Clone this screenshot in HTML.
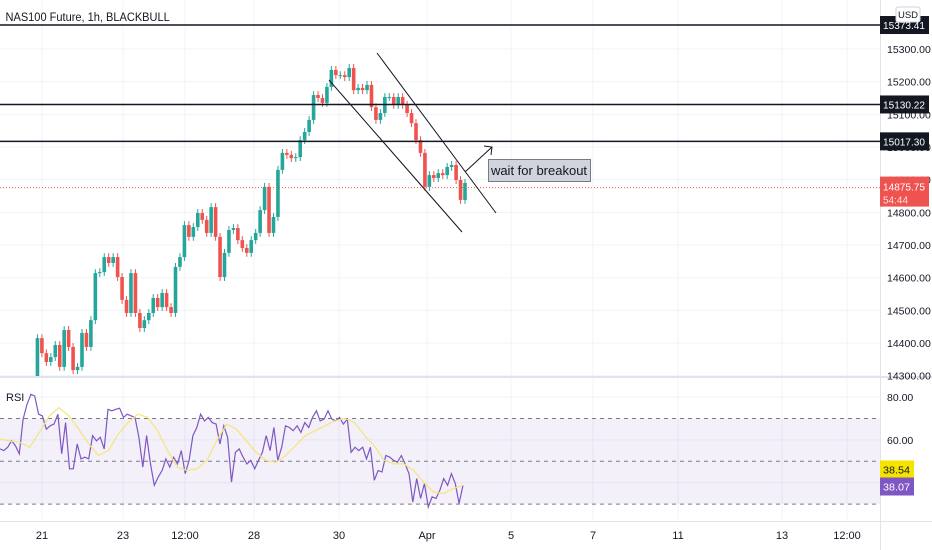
<!DOCTYPE html>
<html><head><meta charset="utf-8"><style>
body{margin:0;background:#fff;font-family:"Liberation Sans",sans-serif}
svg{display:block}
</style></head><body>
<svg id="c" width="932" height="550" xmlns="http://www.w3.org/2000/svg" font-family="Liberation Sans, sans-serif"></svg>
<script>
const closes=[14296,14415,14369,14342,14357,14394,14327,14440,14388,14317,14327,14431,14388,14470,14614,14617,14663,14645,14663,14602,14532,14492,14614,14492,14446,14470,14492,14538,14510,14553,14510,14492,14633,14663,14761,14725,14755,14798,14777,14737,14816,14725,14602,14676,14746,14752,14715,14691,14676,14715,14737,14807,14878,14737,14786,14930,14982,14976,14966,14969,15021,15046,15083,15159,15150,15135,15184,15236,15220,15220,15214,15242,15174,15181,15174,15190,15122,15083,15104,15153,15153,15129,15153,15129,15104,15073,15021,14982,14878,14914,14905,14920,14914,14939,14945,14899,14838,14890];
const rsi=[55.8,55,56.6,59.6,57.3,53.5,69.7,76.6,81.3,80.5,72,71.2,65,66.6,67.4,72,53.5,68.1,46.5,46.5,58.1,51.1,51.9,51.1,62,59.6,61.2,55.8,74.3,73.6,74.3,74.8,70.5,72,71.2,70.5,61.2,47.3,62,48.8,38.8,42.6,45.7,51.1,47.3,51.9,48.8,55,44.2,50.4,62,65.8,72,68.9,70.5,68.1,67.4,58.1,66.6,61.2,40.3,54.2,55.8,51.9,48.8,50.4,46.5,50.4,54.2,62,55,65.8,50.4,56.6,66.6,65.8,64.3,66.6,63.5,68.1,65.8,70.5,73.6,68.9,69.7,73.6,69.7,68.9,70.5,67.4,69.7,54.2,56.6,55,56.6,51.1,56.6,41.1,45.7,45,52.7,51.9,50.4,49.6,52.7,48.8,44.2,31,41.9,32.6,39.6,28.7,33.4,32.6,36.5,41.9,38.8,44.2,39.6,30.3,38.8];
const rsiMa=[60.4,59.4,58.9,56.6,63.5,71.2,75.1,71.2,65,58.1,52.7,55,62.7,68.1,72,70.5,64.3,55,47.3,45.7,46.5,50.4,59.6,67.4,65,59.6,54.2,50.4,49.6,52.7,57.3,62,64.3,66.6,68.9,70,68.1,62,57.3,50.4,48.8,48.8,45.7,40.3,35.7,34.9,37.2,38.8];
const priceTicks=[15300,15200,15100,15000,14900,14800,14700,14600,14500,14400,14300];
const hLines=[15373.41,15130.22,15017.30];
const lastPrice=14875.75;
const timeLabels=["21","23","12:00","28","30","Apr","5","7","11","13","12:00"];
const timePos=[42,123,185,254,339,427,511,593,678,782,847];
const rsiTicks=[80,60];

const S=document.getElementById('c');const NS='http://www.w3.org/2000/svg';
function el(t,a,p){const e=document.createElementNS(NS,t);for(const k in a)e.setAttribute(k,a[k]);(p||S).appendChild(e);return e;}
const py=p=>49+(15300-p)*0.3267;
const ry=v=>418.5+(70-v)*2.14;
const cx=i=>33+i*(432/(closes.length-1));
const PW=880;
const defs=el('defs',{});
const cp=el('clipPath',{id:'mainclip'},defs);el('rect',{x:0,y:0,width:PW,height:376},cp);
const cp2=el('clipPath',{id:'rclip'},defs);el('rect',{x:0,y:378,width:PW,height:142},cp2);
for(const x of timePos){const g=el('line',{x1:x,x2:x,y1:0,y2:521,stroke:'#f0f3fa'});}
for(const p of priceTicks){const g=el('line',{x1:0,x2:PW,y1:py(p),y2:py(p),stroke:'#f0f3fa'});}
for(const v of [80,60,40]){const g=el('line',{x1:0,x2:PW,y1:ry(v),y2:ry(v),stroke:'#f0f3fa'});}
const band=el('rect',{x:0,y:ry(70),width:PW,height:ry(30)-ry(70),fill:'rgba(126,87,194,0.09)'});

for(const v of [70,50,30]){const d=el('line',{x1:0,x2:PW,y1:ry(v),y2:ry(v),stroke:'#787b86','stroke-dasharray':'4 4'});}
const cg=el('g',{'clip-path':'url(#mainclip)'});
for(let i=1;i<closes.length;i++){
 const o=closes[i-1],c=closes[i],up=c>=o,col=up?'#26a69a':'#ef5350';
 const x=cx(i);
 const w=el('line',{x1:x,x2:x,y1:py(Math.max(o,c)+12),y2:py(Math.min(o,c)-12),stroke:col,'stroke-width':1},cg);
 
 const b=el('rect',{x:x-1.8,y:py(Math.max(o,c)),width:3.6,height:Math.max(1,Math.abs(py(o)-py(c))),fill:col},cg);
 
}
el('line',{x1:0,x2:932,y1:377,y2:377,stroke:'#e0e3eb','stroke-width':2});
el('line',{x1:0,x2:932,y1:521.5,y2:521.5,stroke:'#e0e3eb'});
el('line',{x1:880.5,x2:880.5,y1:0,y2:550,stroke:'#e0e3eb'});
for(const h of hLines){const l=el('line',{x1:0,x2:PW,y1:py(h),y2:py(h),stroke:'#131722','stroke-width':1.5});}
const lp=el('line',{x1:0,x2:PW,y1:py(lastPrice),y2:py(lastPrice),stroke:'#ef5350','stroke-dasharray':'1 2'});

const ch1=el('line',{x1:377,y1:53,x2:496,y2:213,stroke:'#131722'});
const ch2=el('line',{x1:329,y1:80,x2:462,y2:232,stroke:'#131722'});
const ar=el('path',{d:'M465 172 L492 147 M484 146 L492 147 L491 155',stroke:'#131722',fill:'none'});
const nb=el('rect',{x:488.5,y:159.5,width:102,height:22,fill:'#d1d4dc',stroke:'#787b86'});
const nt=el('text',{x:539,y:175,'font-size':13,fill:'#131722','text-anchor':'middle'});nt.textContent='wait for breakout';
const rg=el('g',{'clip-path':'url(#rclip)'});
const rp=rsi.map((v,i)=>(i*463/(rsi.length-1)).toFixed(1)+','+ry(v).toFixed(1)).join(' ');
const rl=el('polyline',{points:rp,fill:'none',stroke:'#7e57c2','stroke-width':1.2},rg);
const mp=rsiMa.map((v,i)=>(i*463/(rsiMa.length-1)).toFixed(1)+','+ry(v).toFixed(1)).join(' ');
const ml=el('polyline',{points:mp,fill:'none',stroke:'#f5e57a','stroke-width':1.2},rg);
const t1=el('text',{x:6,y:21,'font-size':12,fill:'#131722',transform:'scale(0.92,1)'});t1.textContent='NAS100 Future, 1h, BLACKBULL';
const t2=el('text',{x:6,y:401,'font-size':11,fill:'#131722'});t2.textContent='RSI';
for(const p of priceTicks){const t=el('text',{x:887,y:py(p)+4,'font-size':10.5,fill:'#131722'});t.textContent=p.toFixed(2);}
for(const v of rsiTicks){const t=el('text',{x:887,y:ry(v)+4,'font-size':10.5,fill:'#131722'});t.textContent=v.toFixed(2);}
timeLabels.forEach((l,i)=>{const t=el('text',{x:timePos[i],y:539,'font-size':11,fill:'#131722','text-anchor':'middle'});t.textContent=l;});
function badge(y,txt,bg,fg,name,w){const r=el('rect',{x:880,y:y-9,width:w||49,height:18,fill:bg});const t=el('text',{x:883,y:y+4,'font-size':10,fill:fg,textLength:(w||49)-7,lengthAdjust:'spacingAndGlyphs'});t.textContent=txt;return t;}
for(const h of hLines)badge(py(h),h.toFixed(2),'#131722','#fff','level-badge');
const rb=el('rect',{x:880,y:py(lastPrice)-11,width:49,height:30,fill:'#ef5350'});
const r1=el('text',{x:883,y:py(lastPrice)+3,'font-size':10,fill:'#fff',textLength:42,lengthAdjust:'spacingAndGlyphs'});r1.textContent=lastPrice.toFixed(2);
const r2=el('text',{x:883,y:py(lastPrice)+16,'font-size':10,fill:'#ffe0e0'});r2.textContent='54:44';
badge(469.5,'38.54','#f5e400','#131722','rsi-ma-badge',34);
badge(486.5,'38.07','#7e57c2','#fff','rsi-badge',34);
const ub=el('rect',{x:896,y:7,width:24,height:15,fill:'#fff',stroke:'#d1d4dc',rx:2});
const ut=el('text',{x:908,y:18,'font-size':9.5,fill:'#131722','text-anchor':'middle'});ut.textContent='USD';
</script>
</body></html>
